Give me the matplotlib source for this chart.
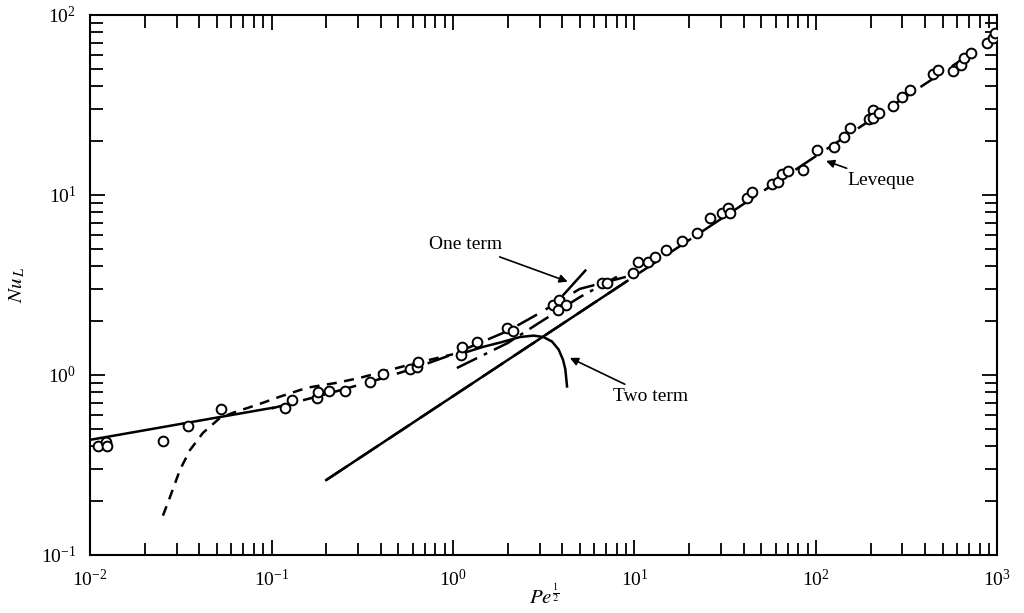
import math
import matplotlib
matplotlib.use("Agg")
import matplotlib.pyplot as plt

plt.rcParams['font.family'] = 'serif'
plt.rcParams['font.serif'] = ['Liberation Serif', 'DejaVu Serif']
plt.rcParams['mathtext.fontset'] = 'stix'

# experimental points (Pe^1/2, Nu_L)
pts_x = [0.0111, 0.01225, 0.0124, 0.0252, 0.0347, 0.0527, 0.119, 0.130, 0.178, 0.181,
         0.208, 0.255, 0.350, 0.412, 0.581, 0.635, 0.643, 1.10, 1.12, 1.36,
         1.99, 2.15, 3.56, 3.85, 4.21, 3.80, 6.64, 7.08, 9.84, 10.5,
         11.9, 13.0, 15.0, 18.3, 22.2, 26.2, 30.5, 32.9, 33.7, 41.9,
         44.6, 57.5, 62.1, 65.3, 70.5, 85.3, 102, 125, 142, 155,
         195, 207, 207, 224, 267, 299, 331, 444, 473, 572,
         634, 658, 719, 881, 951, 975]
pts_y = [0.403, 0.425, 0.403, 0.43, 0.521, 0.647, 0.656, 0.726, 0.745, 0.805,
         0.815, 0.815, 0.914, 1.01, 1.08, 1.11, 1.17, 1.29, 1.43, 1.52,
         1.82, 1.75, 2.45, 2.61, 2.45, 2.30, 3.24, 3.24, 3.69, 4.24,
         4.24, 4.53, 4.95, 5.55, 6.15, 7.45, 7.94, 8.47, 7.94, 9.62,
         10.4, 11.5, 11.8, 13.1, 13.6, 13.8, 17.8, 18.5, 21.0, 23.5,
         26.4, 29.7, 26.8, 28.5, 31.2, 35.0, 38.3, 47.0, 49.5, 48.9,
         52.7, 57.7, 61.5, 69.8, 74.5, 79.4]

# low Peclet asymptote (solid, left)
low_x = [0.01, 0.102]
low_y = [0.435, 0.656]

# short-dash curve
sd_x = [0.0252, 0.0276, 0.0313, 0.0356, 0.0419, 0.0521, 0.0614, 0.0865, 0.111,
        0.157, 0.230, 0.308, 0.581, 1.0]
sd_y = [0.165, 0.21, 0.297, 0.383, 0.476, 0.577, 0.615, 0.69, 0.755,
        0.847, 0.903, 0.962, 1.14, 1.3]

# long-dash curve through the data
ld_x = [0.1, 0.2, 0.4, 0.6, 1.0, 2.0, 3.0, 5.0, 9.0]
ld_y = [0.65, 0.78, 0.95, 1.08, 1.3, 1.75, 2.2, 3.0, 3.5]

# dash-dot curve
dd_x = [1.05, 2.0, 3.0, 5.0, 8.0]
dd_y = [1.09, 1.5, 1.95, 2.7, 3.5]

# Leveque line (solid up to lev_split, dashed beyond)
lev_x = [0.2, 1000]
lev_y = [0.26, 76]
lev_split = 9.0

# one term / two term solutions
one_x = [4.06, 5.36]
one_y = [2.78, 3.79]
two_x = [1.14, 1.47, 1.82, 2.34, 2.78, 3.15, 3.51, 3.82, 4.04, 4.16, 4.25]
two_y = [1.32, 1.43, 1.51, 1.62, 1.65, 1.62, 1.53, 1.38, 1.21, 1.07, 0.861]

fig = plt.figure(figsize=(10.24, 6.13), dpi=100)
ax = fig.add_axes([0.088, 0.095, 0.886, 0.881])
ax.set_xscale('log')
ax.set_yscale('log')

lw = 1.8
ax.plot(low_x, low_y, color='black', lw=lw)
ax.plot(sd_x, sd_y, color='black', lw=lw, dashes=(4, 3))
ax.plot(ld_x, ld_y, color='black', lw=lw, dashes=(9, 4))
ax.plot(dd_x, dd_y, color='black', lw=lw, dashes=(9, 3, 1.5, 3))

slope = math.log(lev_y[1] / lev_y[0]) / math.log(lev_x[1] / lev_x[0])
split_y = lev_y[0] * (lev_split / lev_x[0]) ** slope
ax.plot([lev_x[0], lev_split], [lev_y[0], split_y], color='black', lw=lw)
ax.plot(lev_x, lev_y, color='black', lw=lw, dashes=(10, 5))

ax.plot(one_x, one_y, color='black', lw=lw)
ax.plot(two_x, two_y, color='black', lw=lw)

ax.plot(pts_x, pts_y, 'o', ms=7, mfc='white', mec='black', mew=1.4, zorder=5)

ax.set_xlim(0.01, 1000)
ax.set_ylim(0.1, 100)

for s in ax.spines.values():
    s.set_linewidth(1.5)
ax.tick_params(which='both', direction='in', top=True, right=True, labelsize=14, width=1.3)
ax.tick_params(which='major', length=11, pad=10)
ax.tick_params(which='minor', length=9)

ax.set_xlabel(r'$Pe^{\frac{1}{2}}$', fontsize=15, labelpad=-4)
ax.set_ylabel(r'$Nu_{\,L}$', fontsize=15, labelpad=10)

arrow = dict(arrowstyle='-|>', color='black', lw=1.2, mutation_scale=12)
ax.annotate('One term', xy=(4.43, 3.25), xytext=(1.18, 5.28), fontsize=14,
            ha='center', va='center', arrowprops=arrow)
ax.annotate('Two term', xy=(4.27, 1.26), xytext=(7.64, 0.755), fontsize=14,
            ha='left', va='center', arrowprops=arrow)
ax.annotate('Leveque', xy=(110, 15.6), xytext=(149, 12.0), fontsize=14,
            ha='left', va='center', arrowprops=arrow)

fig.savefig('out.png', dpi=100)
